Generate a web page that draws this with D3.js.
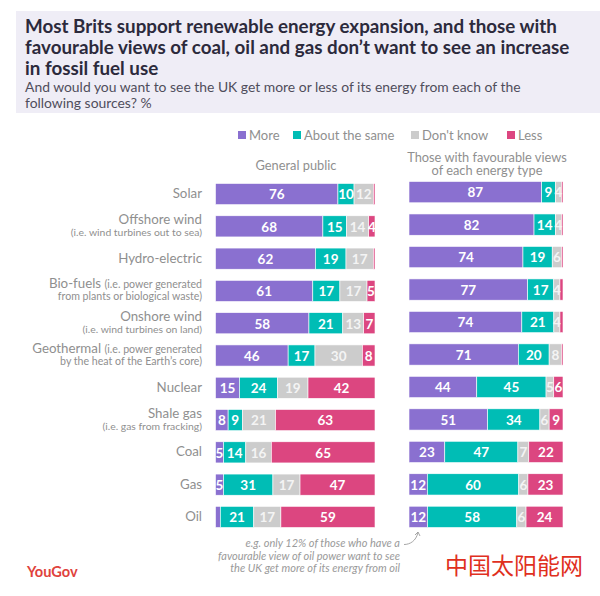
<!DOCTYPE html>
<html>
<head>
<meta charset="utf-8">
<script src="https://cdnjs.cloudflare.com/ajax/libs/d3/7.8.5/d3.min.js"></script>
<style>
	html, body { margin: 0; padding: 0; background: #fff; }
	text { font-family: Lato, "Open Sans", sans-serif; }
</style>
</head>
<body>
<div id="container"></div>
<script>
	var categories = ["Solar", "Offshore wind", "Hydro-electric", "Bio-fuels", "Onshore wind", "Geothermal", "Nuclear", "Shale gas", "Coal", "Gas", "Oil"];
	var responses = ["More", "About the same", "Don't know", "Less"];

	var publicMore = [76, 68, 62, 61, 58, 46, 15, 8, 5, 5, 3];
	var publicSame = [10, 15, 19, 17, 21, 17, 24, 9, 14, 31, 21];
	var publicDontKnow = [12, 14, 17, 17, 13, 30, 19, 21, 16, 17, 17];
	var publicLess = [1, 4, 1, 5, 7, 8, 42, 63, 65, 47, 59];

	var favourableMore = [87, 82, 74, 77, 74, 71, 44, 51, 23, 12, 12];
	var favourableSame = [9, 14, 19, 17, 21, 20, 45, 34, 47, 60, 58];
	var favourableDontKnow = [4, 4, 6, 4, 4, 8, 5, 6, 7, 6, 6];
	var favourableLess = [1, 1, 1, 2, 2, 1, 6, 9, 22, 23, 24];

	var colours = ["#8a70d0", "#00bdb5", "#cccccc", "#dc4680"];

	var svg = d3.select('#container')
		.append('svg')
		.attr('width', 600)
		.attr('height', 596)
		.style('display', 'block');

	// header band
	svg.append('rect')
		.attr('x', 16).attr('y', 11)
		.attr('width', 584).attr('height', 102)
		.style('fill', '#efedf6');

	var titleLines = [
		"Most Brits support renewable energy expansion, and those with",
		"favourable views of coal, oil and gas don\u2019t want to see an increase",
		"in fossil fuel use"
	];
	var subtitleLines = [
		"And would you want to see the UK get more or less of its energy from each of the",
		"following sources? %"
	];

	svg.selectAll('.title').data(titleLines).enter().append('text')
		.attr('class', 'title')
		.attr('x', 25)
		.attr('y', function(d, i) { return 33 + i * 21; })
		.style('font-size', '18.8px')
		.style('font-weight', 700)
		.style('fill', '#2c2a3c')
		.text(function(d) { return d; });

	svg.selectAll('.subtitle').data(subtitleLines).enter().append('text')
		.attr('class', 'subtitle')
		.attr('x', 25)
		.attr('y', function(d, i) { return 92 + i * 15.5; })
		.style('font-size', '13.9px')
		.style('fill', '#4f4d5c')
		.text(function(d) { return d; });

	// legend
	var legendX = [238, 293, 411, 507];
	var legend = svg.selectAll('.legend').data(responses).enter().append('g')
		.attr('class', 'legend')
		.attr('transform', function(d, i) { return 'translate(' + legendX[i] + ',131)'; });
	legend.append('rect')
		.attr('width', 8).attr('height', 8)
		.style('fill', function(d, i) { return colours[i]; });
	legend.append('text')
		.attr('x', 11).attr('y', 8.5)
		.style('font-size', '13px')
		.style('fill', '#8f8f8f')
		.text(function(d) { return d; });

	// panel headings
	function heading(x, y, txt) {
		svg.append('text')
			.attr('x', x).attr('y', y)
			.attr('text-anchor', 'middle')
			.style('font-size', '12.8px')
			.style('fill', '#8f8f8f')
			.text(txt);
	}
	heading(296, 170, "General public");
	heading(487, 162, "Those with favourable views");
	heading(487, 175, "of each energy type");

	// small explanations under the row names
	var labelSmall = [
		[], ["(i.e. wind turbines out to sea)"], [], ["(i.e. power generated", "from plants or biological waste)"],
		["(i.e. wind turbines on land)"], ["(i.e. power generated", "by the heat of the Earth\u2019s core)"],
		[], ["(i.e. gas from fracking)"], [], [], []
	];

	var xLeft = d3.scaleLinear().domain([0, 100]).range([215.5, 375]);
	var xRight = d3.scaleLinear().domain([0, 100]).range([409, 563]);
	var yLeft = d3.scaleBand().domain(categories).range([183.5, 527.5]).paddingInner(0.345).paddingOuter(0);
	var yRight = d3.scaleBand().domain(categories).range([181.5, 527.5]).paddingInner(0.345).paddingOuter(0);

	function drawPanel(x, y, series) {
		var stacked = [];
		categories.forEach(function(c, i) {
			var vals = series.map(function(s) { return s[i]; });
			var total = d3.sum(vals);
			var run = 0;
			vals.forEach(function(v, j) {
				stacked.push({ cat: c, value: v, start: run / total * 100, end: (run + v) / total * 100, j: j });
				run += v;
			});
		});

		var g = svg.append('g');
		g.selectAll('rect').data(stacked).enter().append('rect')
			.attr('x', function(d) { return x(d.start); })
			.attr('y', function(d) { return y(d.cat); })
			.attr('width', function(d) { return x(d.end) - x(d.start); })
			.attr('height', y.bandwidth())
			.style('fill', function(d) { return colours[d.j]; })
			.style('stroke', 'white')
			.style('stroke-width', 0.6);

		g.selectAll('text').data(stacked.filter(function(d) { return d.value >= 4; })).enter().append('text')
			.attr('x', function(d) { return (x(d.start) + x(d.end)) / 2; })
			.attr('y', function(d) { return y(d.cat) + y.bandwidth() / 2 + 5.3; })
			.attr('text-anchor', 'middle')
			.style('font-size', '13.5px')
			.style('font-weight', 700)
			.style('fill', function(d) { return d.j == 2 ? '#f4f4f4' : 'white'; })
			.text(function(d) { return d.value; });
	}

	drawPanel(xLeft, yLeft, [publicMore, publicSame, publicDontKnow, publicLess]);
	drawPanel(xRight, yRight, [favourableMore, favourableSame, favourableDontKnow, favourableLess]);

	var labels = svg.append('g');
	categories.forEach(function(c, i) {
		var mid = yLeft(c) + yLeft.bandwidth() / 2;
		var small = labelSmall[i];
		var t = labels.append('text')
			.attr('text-anchor', 'end')
			.attr('x', 202)
			.style('fill', '#8f8f8f');
		if (small.length == 0) {
			t.attr('y', mid + 4).style('font-size', '13.3px').text(c);
		} else if (small.length == 2) {
			t.attr('y', mid - 3);
			t.append('tspan').style('font-size', '13.3px').text(c + ' ');
			t.append('tspan').style('font-size', '10.6px').text(small[0]);
			labels.append('text')
				.attr('text-anchor', 'end').attr('x', 202).attr('y', mid + 9)
				.style('fill', '#8f8f8f').style('font-size', '10.6px')
				.text(small[1]);
		} else {
			t.attr('y', mid - 2.5).style('font-size', '13.3px').text(c);
			labels.append('text')
				.attr('text-anchor', 'end').attr('x', 202).attr('y', mid + 9.5)
				.style('fill', '#8f8f8f').style('font-size', '10.4px')
				.text(small[0]);
		}
	});

	// oil note
	var noteLines = [
		"e.g. only 12% of those who have a",
		"favourable view of oil power want to see",
		"the UK get more of its energy from oil"
	];
	svg.selectAll('.note').data(noteLines).enter().append('text')
		.attr('class', 'note')
		.attr('x', 400)
		.attr('y', function(d, i) { return 547 + i * 12.5; })
		.attr('text-anchor', 'end')
		.style('font-size', '11px')
		.style('font-style', 'italic')
		.style('fill', '#9a9a9a')
		.text(function(d) { return d; });

	svg.append('path')
		.attr('d', 'M404,544.5 C410,544.5 416,541 418,532.5')
		.style('fill', 'none')
		.style('stroke', '#8f8f8f')
		.style('stroke-width', 0.8);
	svg.append('path')
		.attr('d', 'M415,535 L418,532 L420,536')
		.style('fill', 'none')
		.style('stroke', '#8f8f8f')
		.style('stroke-width', 0.8);

	svg.append('text')
		.attr('x', 27).attr('y', 577)
		.style('font-size', '14.6px')
		.style('font-weight', 700)
		.style('fill', '#e0423c')
		.text('YouGov');

	svg.append('text')
		.attr('x', 445).attr('y', 574)
		.style('font-family', '"Noto Sans CJK SC"')
		.style('font-size', '23px')
		.style('fill', '#e0301e')
		.text('中国太阳能网');
</script>
</body>
</html>
